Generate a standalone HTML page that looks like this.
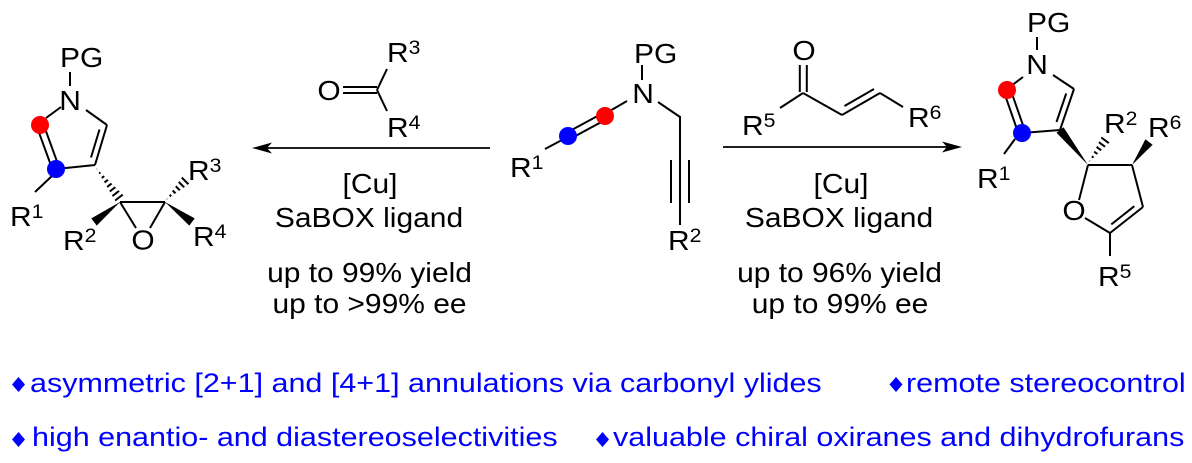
<!DOCTYPE html>
<html>
<head>
<meta charset="utf-8">
<style>
  html, body { margin: 0; padding: 0; background: #fff; }
  svg { display: block; }
  text { font-family: "Liberation Sans", Arial, sans-serif; font-size: 27.5px; fill: #000; }
  .b text, text.b { fill: #0000ff; font-size: 27px; }
  .sup { font-size: 19.5px; }
</style>
</head>
<body>
<svg width="1192" height="463" viewBox="0 0 1192 463" xmlns="http://www.w3.org/2000/svg">
  <rect width="1192" height="463" fill="#fff"/>
  <defs>
    <clipPath id="h1"><polygon points="96,168 124,195.9 116,202.1"/></clipPath>
    <clipPath id="h2"><polygon points="166,200 189.5,183.5 182.5,176.5"/></clipPath>
    <clipPath id="h3"><polygon points="1089,162 1110,142 1102,136"/></clipPath>
  </defs>

  <g stroke="#000" stroke-width="2" fill="none">
    <!-- Left product -->
    <line x1="70" y1="72" x2="70" y2="86"/>
    <line x1="86" y1="110" x2="107" y2="125"/>
    <line x1="107" y1="125" x2="95" y2="165"/>
    <line x1="99.5" y1="129.5" x2="91" y2="157.5"/>
    <line x1="95" y1="165" x2="56" y2="169"/>
    <line x1="46" y1="118" x2="61" y2="107"/>
    <line x1="36.7" y1="126.2" x2="52.7" y2="170.2"/>
    <line x1="43.3" y1="123.8" x2="59.3" y2="167.8"/>
    <line x1="53" y1="175" x2="35" y2="192"/>
    <line x1="120" y1="202" x2="165" y2="202"/>
    <line x1="120" y1="202" x2="136" y2="228"/>
    <line x1="165" y1="202" x2="150" y2="228"/>
    <line x1="96" y1="168" x2="120" y2="199" stroke-width="14" stroke-dasharray="2 3.2" clip-path="url(#h1)"/>
    <line x1="166" y1="200" x2="186" y2="180" stroke-width="14" stroke-dasharray="2 3.2" clip-path="url(#h2)"/>

    <!-- Left reagent -->
    <line x1="343" y1="87" x2="377" y2="87"/>
    <line x1="343" y1="93" x2="377" y2="93"/>
    <line x1="377" y1="90" x2="387" y2="69"/>
    <line x1="377" y1="90" x2="387" y2="111"/>

    <!-- Arrows -->
    <line x1="266" y1="148" x2="490" y2="148" stroke-width="1.8"/>
    <line x1="723" y1="147" x2="948" y2="147" stroke-width="1.8"/>

    <!-- Starting material -->
    <line x1="642" y1="65" x2="642" y2="80"/>
    <line x1="627" y1="101" x2="608" y2="112"/>
    <line x1="606.7" y1="119.1" x2="569.7" y2="139.1"/>
    <line x1="603.3" y1="112.9" x2="566.3" y2="132.9"/>
    <line x1="562" y1="140" x2="545" y2="149"/>
    <line x1="658" y1="102" x2="680" y2="117"/>
    <line x1="680" y1="116" x2="680" y2="225"/>
    <line x1="671" y1="160" x2="671" y2="203"/>
    <line x1="689" y1="160" x2="689" y2="203"/>

    <!-- Right reagent -->
    <line x1="799.8" y1="65" x2="799.8" y2="92"/>
    <line x1="806.8" y1="65" x2="806.8" y2="92"/>
    <line x1="803" y1="93" x2="780" y2="108"/>
    <line x1="803" y1="93" x2="842" y2="115"/>
    <line x1="842" y1="115" x2="880" y2="93"/>
    <line x1="844.5" y1="106" x2="874" y2="89"/>
    <line x1="880" y1="93" x2="903" y2="107"/>

    <!-- Right product -->
    <line x1="1037" y1="37" x2="1037" y2="50"/>
    <line x1="1023" y1="77" x2="1011" y2="86"/>
    <line x1="1053" y1="75" x2="1074" y2="89"/>
    <line x1="1074" y1="89" x2="1060" y2="130"/>
    <line x1="1066.2" y1="93.5" x2="1056.5" y2="122"/>
    <line x1="1060" y1="130" x2="1022" y2="133"/>
    <line x1="1003.7" y1="91.2" x2="1018.7" y2="134.2"/>
    <line x1="1010.3" y1="88.8" x2="1025.3" y2="131.8"/>
    <line x1="1015" y1="139" x2="1004" y2="154"/>
    <line x1="1088" y1="165" x2="1132" y2="165"/>
    <line x1="1132" y1="165" x2="1143" y2="207"/>
    <line x1="1143" y1="207" x2="1110" y2="233"/>
    <line x1="1134.3" y1="206.2" x2="1111.3" y2="224.4"/>
    <line x1="1110" y1="233" x2="1085" y2="218"/>
    <line x1="1079" y1="200" x2="1088" y2="165"/>
    <line x1="1110" y1="233" x2="1110" y2="256"/>
    <line x1="1089" y1="162" x2="1106" y2="139" stroke-width="14" stroke-dasharray="2 3.2" clip-path="url(#h3)"/>
  </g>

  <!-- Wedges and arrowheads -->
  <g fill="#000">
    <polygon points="120,202 96.7,225.6 91.3,218.4"/>
    <polygon points="165,202 189.3,225.6 194.7,218.4"/>
    <polygon points="1088,165 1063.5,127.2 1056.5,132.8"/>
    <polygon points="1132,165 1152.6,144.7 1145.4,139.3"/>
    <polygon points="252,148 272,142.5 267,148 272,153.5"/>
    <polygon points="962,147 942,141.5 947,147 942,152.5"/>
  </g>

  <!-- Colored dots -->
  <circle cx="40" cy="125" r="9" fill="#ff0000"/>
  <circle cx="56" cy="169" r="9" fill="#0000ff"/>
  <circle cx="605" cy="116" r="9" fill="#ff0000"/>
  <circle cx="568" cy="136" r="9" fill="#0000ff"/>
  <circle cx="1007" cy="90" r="9" fill="#ff0000"/>
  <circle cx="1022" cy="133" r="9" fill="#0000ff"/>

  <!-- Left product labels -->
  <text transform="translate(60,67) scale(1.09 1)">PG</text>
  <text transform="translate(70,110) scale(1.09 1)" text-anchor="middle">N</text>
  <text transform="translate(10,226) scale(1.09 1)">R<tspan class="sup" dy="-8">1</tspan></text>
  <text transform="translate(63,250) scale(1.09 1)">R<tspan class="sup" dy="-8">2</tspan></text>
  <text transform="translate(143,249.5) scale(1.09 1)" text-anchor="middle">O</text>
  <text transform="translate(188,180) scale(1.09 1)">R<tspan class="sup" dy="-8">3</tspan></text>
  <text transform="translate(193,246) scale(1.09 1)">R<tspan class="sup" dy="-8">4</tspan></text>

  <!-- Left reagent labels -->
  <text transform="translate(329,100) scale(1.09 1)" text-anchor="middle">O</text>
  <text transform="translate(387,62) scale(1.09 1)">R<tspan class="sup" dy="-8">3</tspan></text>
  <text transform="translate(387,137) scale(1.09 1)">R<tspan class="sup" dy="-8">4</tspan></text>

  <!-- Starting material labels -->
  <text transform="translate(634,63) scale(1.09 1)">PG</text>
  <text transform="translate(643,103) scale(1.09 1)" text-anchor="middle">N</text>
  <text transform="translate(510,177) scale(1.09 1)">R<tspan class="sup" dy="-8">1</tspan></text>
  <text transform="translate(668,250) scale(1.09 1)">R<tspan class="sup" dy="-8">2</tspan></text>

  <!-- Right reagent labels -->
  <text transform="translate(804,60) scale(1.09 1)" text-anchor="middle">O</text>
  <text transform="translate(742,135) scale(1.09 1)">R<tspan class="sup" dy="-8">5</tspan></text>
  <text transform="translate(908,127) scale(1.09 1)">R<tspan class="sup" dy="-8">6</tspan></text>

  <!-- Right product labels -->
  <text transform="translate(1027,32) scale(1.09 1)">PG</text>
  <text transform="translate(1037,74) scale(1.09 1)" text-anchor="middle">N</text>
  <text transform="translate(977,188) scale(1.09 1)">R<tspan class="sup" dy="-8">1</tspan></text>
  <text transform="translate(1104,133) scale(1.09 1)">R<tspan class="sup" dy="-8">2</tspan></text>
  <text transform="translate(1148,137) scale(1.09 1)">R<tspan class="sup" dy="-8">6</tspan></text>
  <text transform="translate(1074,220) scale(1.09 1)" text-anchor="middle">O</text>
  <text transform="translate(1098,286) scale(1.09 1)">R<tspan class="sup" dy="-8">5</tspan></text>

  <!-- Conditions left -->
  <text transform="translate(370,193) scale(1.09 1)" text-anchor="middle">[Cu]</text>
  <text transform="translate(369,227) scale(1.09 1)" text-anchor="middle">SaBOX ligand</text>
  <text transform="translate(369.5,282) scale(1.09 1)" text-anchor="middle">up to 99% yield</text>
  <text transform="translate(369.5,313) scale(1.09 1)" text-anchor="middle">up to &gt;99% ee</text>

  <!-- Conditions right -->
  <text transform="translate(841,193) scale(1.09 1)" text-anchor="middle">[Cu]</text>
  <text transform="translate(839,227) scale(1.09 1)" text-anchor="middle">SaBOX ligand</text>
  <text transform="translate(839.5,282) scale(1.09 1)" text-anchor="middle">up to 96% yield</text>
  <text transform="translate(840,313) scale(1.09 1)" text-anchor="middle">up to 99% ee</text>

  <!-- Bottom highlights -->
  <g fill="#0000ff">
    <polygon points="18.5,377 25,384.5 18.5,392 12,384.5"/>
    <polygon points="896,377 902.5,384.5 896,392 889.5,384.5"/>
    <polygon points="18.5,432 25,439.5 18.5,447 12,439.5"/>
    <polygon points="602.5,432 609,439.5 602.5,447 596,439.5"/>
  </g>
  <g class="b">
    <text transform="translate(30,392) scale(1.13 1)">asymmetric [2+1] and [4+1] annulations via carbonyl ylides</text>
    <text transform="translate(906,392) scale(1.13 1)">remote stereocontrol</text>
    <text transform="translate(32,446) scale(1.13 1)">high enantio- and diastereoselectivities</text>
    <text transform="translate(613,446) scale(1.13 1)">valuable chiral oxiranes and dihydrofurans</text>
  </g>
</svg>
</body>
</html>
